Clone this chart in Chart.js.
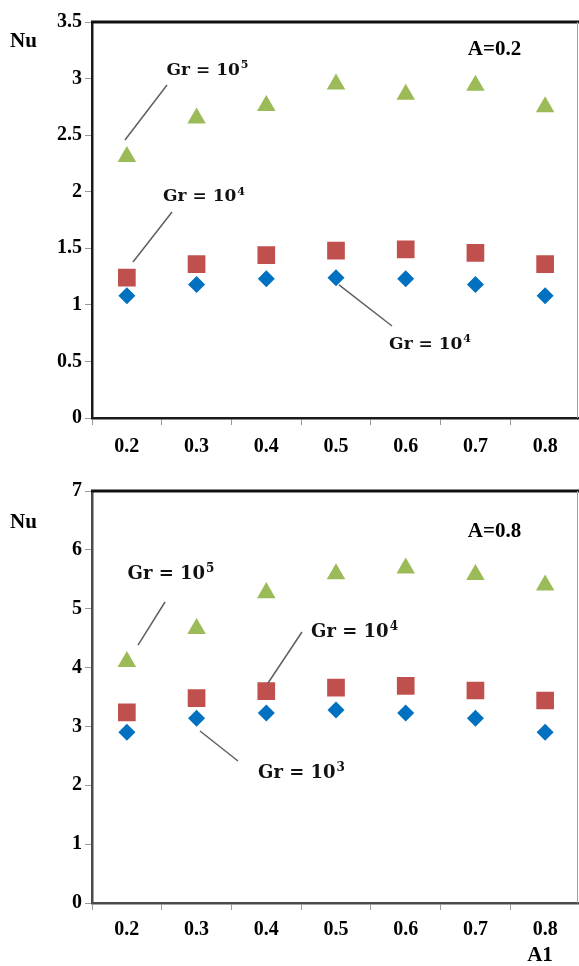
<!DOCTYPE html>
<html><head><meta charset="utf-8">
<script src="https://cdn.jsdelivr.net/npm/chart.js@4.4.0/dist/chart.umd.min.js"></script>
<style>
html,body{margin:0;padding:0;background:#fff;width:579px;height:966px;overflow:hidden;position:relative}
.wrap{position:absolute;left:0}
</style></head><body>
<div class="wrap" style="top:0"><canvas id="c1" width="581" height="470"></canvas></div>
<div class="wrap" style="top:470px"><canvas id="c2" width="581" height="496"></canvas></div>
<script>
// ---- data ----
const categories = ['0.2','0.3','0.4','0.5','0.6','0.7','0.8'];
const topGr1e3 = [1.08, 1.18, 1.23, 1.24, 1.23, 1.18, 1.08];
const topGr1e4 = [1.24, 1.36, 1.44, 1.48, 1.49, 1.46, 1.36];
const topGr1e5 = [2.31, 2.65, 2.76, 2.95, 2.86, 2.94, 2.75];
const botGr1e3 = [2.90, 3.14, 3.23, 3.28, 3.23, 3.14, 2.90];
const botGr1e4 = [3.24, 3.48, 3.60, 3.66, 3.69, 3.61, 3.44];
const botGr1e5 = [4.10, 4.66, 5.27, 5.59, 5.69, 5.58, 5.40];
const topYTicks = ['0','0.5','1','1.5','2','2.5','3','3.5'];
const botYTicks = ['0','1','2','3','4','5','6','7'];

// ---- styles ----
const SERIF = "'Liberation Serif','Times New Roman',serif";
const NOTE_FONT = "'DejaVu Serif',serif";
const BLUE = '#0070C0', RED = '#C0504D', GREEN = '#9BBB59';

function datasets(a, b, c) {
  return [
    {label:'Gr = 10^3', data:a, pointStyle:'rectRot', pointRadius:8.5, backgroundColor:BLUE, borderColor:BLUE},
    {label:'Gr = 10^4', data:b, pointStyle:'rect', pointRadius:12.5, backgroundColor:RED, borderColor:RED},
    {label:'Gr = 10^5', data:c, pointStyle:'triangle', pointRadius:10.7, backgroundColor:GREEN, borderColor:GREEN}
  ].map(d => Object.assign(d, {showLine:false, pointBorderWidth:0, pointHoverRadius:d.pointRadius}));
}

function drawNote(ctx, cx, cy, base, sup, size) {
  ctx.font = 'bold ' + size + 'px ' + NOTE_FONT;
  const w1 = ctx.measureText(base).width;
  const supSize = Math.round(size * 0.66);
  ctx.font = 'bold ' + supSize + 'px ' + NOTE_FONT;
  const w2 = ctx.measureText(sup).width;
  const x0 = cx - (w1 + w2 + 1) / 2;
  const baseY = cy + size * 0.36;
  ctx.fillStyle = '#111';
  ctx.textAlign = 'left'; ctx.textBaseline = 'alphabetic';
  ctx.font = 'bold ' + size + 'px ' + NOTE_FONT;
  ctx.fillText(base, x0, baseY);
  ctx.font = 'bold ' + supSize + 'px ' + NOTE_FONT;
  ctx.fillText(sup, x0 + w1 + 1, baseY - size * 0.38);
}

function panelPlugin(cfg) {
  return {
    id: 'panel',
    afterDraw(chart) {
      const {ctx, chartArea: a, scales: {x, y}} = chart;
      ctx.save();
      // top frame line
      ctx.strokeStyle = '#111'; ctx.lineWidth = 3;
      ctx.beginPath(); ctx.moveTo(a.left - 1, a.top); ctx.lineTo(a.right, a.top); ctx.stroke();
      // right frame line
      ctx.strokeStyle = '#a0a0a0'; ctx.lineWidth = 1;
      ctx.beginPath(); ctx.moveTo(a.right - 2.5, a.top); ctx.lineTo(a.right - 2.5, a.bottom); ctx.stroke();
      // leader lines + notes
      for (const n of cfg.notes) {
        ctx.strokeStyle = '#5f5f5f'; ctx.lineWidth = 1.5;
        ctx.beginPath();
        ctx.moveTo(x.getPixelForValue(n.line[0]), y.getPixelForValue(n.line[1]));
        ctx.lineTo(x.getPixelForValue(n.line[2]), y.getPixelForValue(n.line[3]));
        ctx.stroke();
        drawNote(ctx, x.getPixelForValue(n.tx), y.getPixelForValue(n.ty), 'Gr = 10', n.sup, cfg.noteSize);
      }
      // panel label
      ctx.fillStyle = '#000';
      ctx.font = 'bold 21px ' + SERIF;
      ctx.textAlign = 'center'; ctx.textBaseline = 'middle';
      ctx.fillText(cfg.panel, x.getPixelForValue(cfg.panelPos[0]), y.getPixelForValue(cfg.panelPos[1]));
      // Nu label
      ctx.textAlign = 'left';
      ctx.fillText('Nu', 10, a.top + cfg.nuOffset);
      if (cfg.xTitle) {
        ctx.textAlign = 'center';
        ctx.fillText(cfg.xTitle, 540, a.bottom + 53);
      }
      ctx.restore();
    }
  };
}

function makeChart(id, sets, yMax, step, yTicks, padTop, xHeight, xPad, axisColor, plug) {
  return new Chart(document.getElementById(id), {
    type: 'line',
    data: {labels: categories, datasets: sets},
    options: {
      responsive: false, animation: false, devicePixelRatio: 1,
      layout: {autoPadding: false, padding: {top: padTop, right: 1, left: 0, bottom: 0}},
      plugins: {legend: {display: false}, tooltip: {enabled: false}},
      events: [],
      scales: {
        x: {
          type: 'category', offset: true,
          grid: {offset: true, drawOnChartArea: false, drawTicks: true, tickLength: 7, color: '#9a9a9a', lineWidth: 1},
          border: {display: true, color: axisColor, width: 2.5},
          ticks: {font: {family: SERIF, size: 20, weight: 'bold'}, color: '#000', padding: xPad, maxRotation: 0, autoSkip: false},
          afterFit(s) { s.height = xHeight; s.paddingLeft = 0; s.paddingRight = 0; }
        },
        y: {
          min: 0, max: yMax,
          grid: {drawOnChartArea: false, drawTicks: true, tickLength: 7, color: '#9a9a9a', lineWidth: 1},
          border: {display: true, color: axisColor, width: 2.5},
          ticks: {stepSize: step, font: {family: SERIF, size: 20, weight: 'bold'}, color: '#000', padding: 3,
                  callback: (v, i) => yTicks[i]},
          afterFit(s) { s.width = 92; s.paddingTop = 0; s.paddingBottom = 0; }
        }
      }
    },
    plugins: [plug]
  });
}

makeChart('c1', datasets(topGr1e3, topGr1e4, topGr1e5), 3.5, 0.5, topYTicks, 22, 52, 10, '#1a1a1a',
  panelPlugin({
    noteSize: 17, panel: 'A=0.2', panelPos: [5.274, 3.257], nuOffset: 20,
    notes: [
      {tx: 1.157, ty: 3.089, sup: '5', line: [0.576, 2.943, -0.027, 2.457]},
      {tx: 1.107, ty: 1.971, sup: '4', line: [0.648, 1.821, 0.088, 1.379]},
      {tx: 4.349, ty: 0.667, sup: '4', line: [3.043, 1.176, 3.803, 0.813]}
    ]
  }));

makeChart('c2', datasets(botGr1e3, botGr1e4, botGr1e5), 7, 1, botYTicks, 21, 63, 8, '#4a4a4a',
  panelPlugin({
    noteSize: 18, panel: 'A=0.8', panelPos: [5.274, 6.312], nuOffset: 32, xTitle: 'A1',
    notes: [
      {tx: 0.633, ty: 5.615, sup: '5', line: [0.547, 5.114, 0.160, 4.383]},
      {tx: 3.266, ty: 4.638, sup: '4', line: [2.512, 4.604, 2.025, 3.738]},
      {tx: 2.505, ty: 2.234, sup: '3', line: [1.049, 2.922, 1.594, 2.413]}
    ]
  }));
</script>
</body></html>
